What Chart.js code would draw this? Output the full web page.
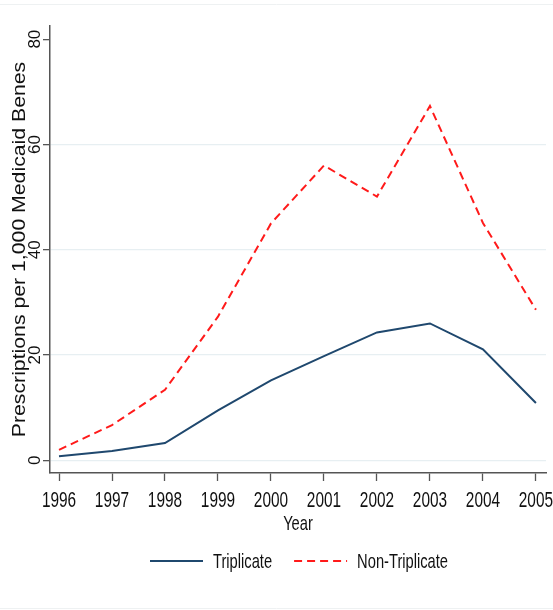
<!DOCTYPE html>
<html lang="en">
<head>
  <meta charset="UTF-8">
  <title>Prescriptions per 1,000 Medicaid Benes</title>
  <script src="https://cdn.jsdelivr.net/npm/chart.js"></script>
  <style>
    body {
      margin: 0;
      padding: 0;
      background: #fff;
    }
    canvas {
      display: block;
    }
  </style>
</head>
<body>
  <canvas id="chartCanvas" width="553" height="610"></canvas>

  <script>
    // data
    const years = [1996, 1997, 1998, 1999, 2000, 2001, 2002, 2003, 2004, 2005];
    const triplicate = [0.8, 1.8, 3.3, 9.5, 15.2, 19.8, 24.3, 26.0, 21.1, 10.9];
    const nonTriplicate = [2.0, 6.7, 13.4, 27.3, 45.0, 56.0, 50.1, 67.3, 45.1, 28.6];
    const yTicks = [0, 20, 40, 60, 80];
    const yTitle = "Prescriptions per 1,000 Medicaid Benes";
    const xTitle = "Year";

    const navy = "#1f486e";
    const red = "#ff1a1a";
    const axisColor = "#555555";
    const gridColor = "#e7eff2";
    const narrowFont = '"Liberation Sans Narrow", "Arial Narrow", "Liberation Sans", Arial, sans-serif';
    const plainFont = '"Liberation Sans", Arial, sans-serif';
    const squeeze = 0.7; // horizontal text is drawn condensed

    function toPoints(values) {
      return years.map((yr, i) => ({ x: yr, y: values[i] }));
    }

    // draws the text labels, rotated y labels and the legend row
    const labelPlugin = {
      id: "labels",
      beforeDraw(chart) {
        const c = chart.ctx;
        c.save();
        c.fillStyle = "#fff";
        c.fillRect(0, 0, chart.width, chart.height);
        c.strokeStyle = "#eef1f2";
        c.lineWidth = 1;
        c.beginPath();
        c.moveTo(0, 4.5); c.lineTo(chart.width, 4.5);
        c.moveTo(0, 608.5); c.lineTo(chart.width, 608.5);
        c.stroke();
        c.restore();
      },
      afterDraw(chart) {
        const c = chart.ctx;
        const xs = chart.scales.x;
        const ys = chart.scales.y;
        c.save();
        c.fillStyle = "#111";
        c.textBaseline = "alphabetic";

        // y tick labels, reading bottom to top
        c.font = "17px " + plainFont;
        c.textAlign = "center";
        ys.ticks.forEach(t => {
          c.save();
          c.translate(40, ys.getPixelForValue(t.value));
          c.rotate(-Math.PI / 2);
          c.fillText(String(t.value), 0, 0);
          c.restore();
        });

        // y title
        c.font = "18px " + plainFont;
        c.save();
        c.translate(25, 249.5);
        c.rotate(-Math.PI / 2);
        c.scale(1.18, 1);
        c.fillText(yTitle, 0, 0);
        c.restore();

        // x tick labels
        c.font = "22px " + narrowFont;
        xs.ticks.forEach(t => {
          c.save();
          c.translate(xs.getPixelForValue(t.value), 506.5);
          c.scale(squeeze, 1);
          c.fillText(String(t.value), 0, 0);
          c.restore();
        });

        // x title
        c.font = "21px " + narrowFont;
        c.save();
        c.translate((chart.chartArea.left + chart.chartArea.right) / 2, 530);
        c.scale(squeeze, 1);
        c.fillText(xTitle, 0, 0);
        c.restore();

        // legend
        c.textAlign = "left";
        let lx = 150;
        const ly = 561;
        chart.data.datasets.forEach(ds => {
          c.save();
          c.strokeStyle = ds.borderColor;
          c.lineWidth = 2;
          c.setLineDash(ds.borderDash || []);
          c.beginPath();
          c.moveTo(lx, ly);
          c.lineTo(lx + 53, ly);
          c.stroke();
          c.restore();

          const tx = lx + 63;
          c.save();
          c.translate(tx, 568);
          c.scale(squeeze, 1);
          c.fillText(ds.label, 0, 0);
          const w = c.measureText(ds.label).width * squeeze;
          c.restore();
          lx = tx + w + 22;
        });

        c.restore();
      }
    };

    const ctx = document.getElementById("chartCanvas").getContext("2d");
    new Chart(ctx, {
      type: "line",
      data: {
        datasets: [
          {
            label: "Triplicate",
            data: toPoints(triplicate),
            borderColor: navy,
            borderWidth: 2,
            pointRadius: 0,
            tension: 0,
            fill: false
          },
          {
            label: "Non-Triplicate",
            data: toPoints(nonTriplicate),
            borderColor: red,
            borderWidth: 2,
            borderDash: [8, 5],
            pointRadius: 0,
            tension: 0,
            fill: false
          }
        ]
      },
      options: {
        responsive: false,
        animation: false,
        layout: {
          autoPadding: false,
          padding: { left: 43, right: 7, top: 26, bottom: 129 }
        },
        plugins: {
          legend: { display: false },
          tooltip: { enabled: false }
        },
        scales: {
          x: {
            type: "linear",
            min: 1995.83,
            max: 2005.19,
            afterBuildTicks: s => { s.ticks = years.map(v => ({ value: v })); },
            ticks: { display: false },
            grid: {
              drawOnChartArea: false,
              tickLength: 8,
              tickColor: axisColor,
              tickWidth: 1.3
            },
            border: { color: axisColor, width: 1.5 }
          },
          y: {
            type: "linear",
            min: -2.4,
            max: 82.5,
            afterBuildTicks: s => { s.ticks = yTicks.map(v => ({ value: v })); },
            ticks: { display: false },
            grid: {
              color: c => (c.tick && c.tick.value === 80 ? "rgba(0,0,0,0)" : gridColor),
              lineWidth: 1.3,
              tickLength: 7,
              tickColor: axisColor,
              tickWidth: 1.3
            },
            border: { color: axisColor, width: 1.5 }
          }
        }
      },
      plugins: [labelPlugin]
    });
  </script>
</body>
</html>
